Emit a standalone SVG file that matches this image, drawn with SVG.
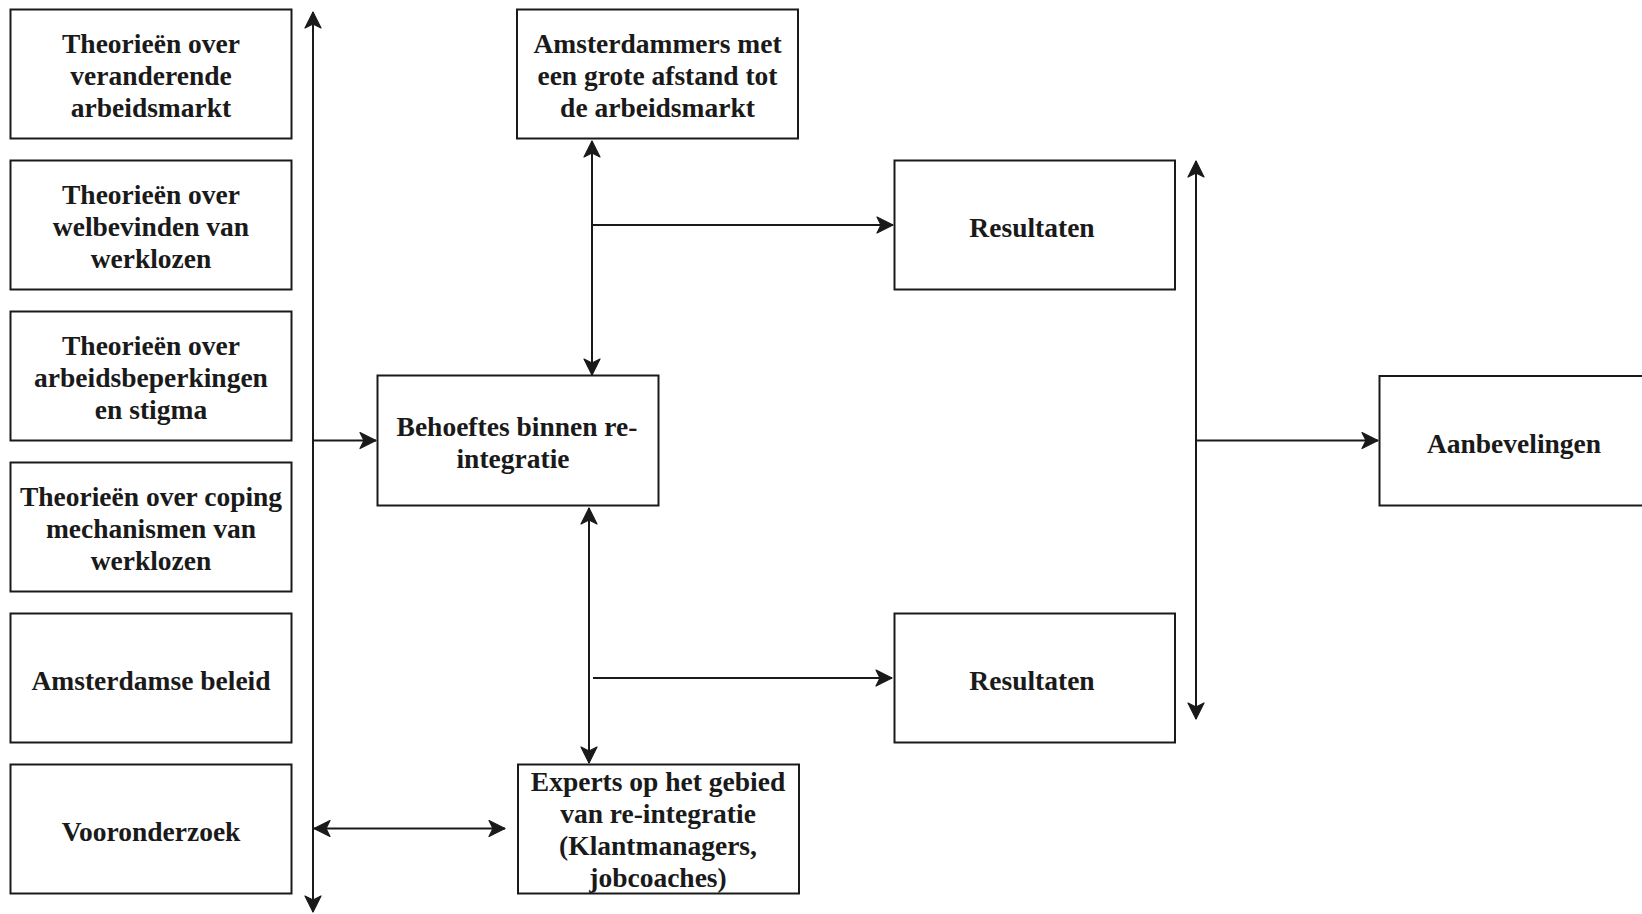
<svg xmlns="http://www.w3.org/2000/svg" width="1642" height="914" viewBox="0 0 1642 914">
<style>
.box{fill:#fff;stroke:#1a1a1a;stroke-width:2}
.t{font-family:"Liberation Serif","Times New Roman",serif;font-weight:bold;font-size:27.5px;fill:#1a1a1a;text-anchor:middle}
.c{fill:none;stroke:#1a1a1a;stroke-width:2}
</style>
<defs>
<marker id="ah" markerUnits="userSpaceOnUse" markerWidth="20" markerHeight="20" refX="17" refY="9" orient="auto-start-reverse" viewBox="0 0 20 18" overflow="visible">
<path d="M1,1 L17,9 L1,17 L5,9 z" fill="#1a1a1a" stroke="#1a1a1a" stroke-width="1.2" stroke-linejoin="round"/>
</marker>
</defs>
<rect width="1642" height="914" fill="#fff"/>
<g id="connectors">
<line class="c" x1="313" y1="12" x2="313" y2="912" marker-start="url(#ah)" marker-end="url(#ah)"/>
<line class="c" x1="313" y1="440.5" x2="376" y2="440.5" marker-end="url(#ah)"/>
<line class="c" x1="314" y1="828.5" x2="505" y2="828.5" marker-start="url(#ah)" marker-end="url(#ah)"/>
<line class="c" x1="592" y1="141" x2="592" y2="375" marker-start="url(#ah)" marker-end="url(#ah)"/>
<line class="c" x1="592" y1="225" x2="893" y2="225" marker-end="url(#ah)"/>
<line class="c" x1="589" y1="508" x2="589" y2="763" marker-start="url(#ah)" marker-end="url(#ah)"/>
<line class="c" x1="593" y1="678" x2="892" y2="678" marker-end="url(#ah)"/>
<line class="c" x1="1196" y1="161" x2="1196" y2="719" marker-start="url(#ah)" marker-end="url(#ah)"/>
<line class="c" x1="1196" y1="440.5" x2="1378" y2="440.5" marker-end="url(#ah)"/>
</g>
<g id="n1"><rect class="box" x="10.5" y="9.5" width="281" height="129"/>
<text class="t" x="151" y="53">Theorieën over</text><text class="t" x="151" y="85">veranderende</text><text class="t" x="151" y="117">arbeidsmarkt</text></g>
<g id="n2"><rect class="box" x="10.5" y="160.5" width="281" height="129"/>
<text class="t" x="151" y="204">Theorieën over</text><text class="t" x="151" y="236">welbevinden van</text><text class="t" x="151" y="268">werklozen</text></g>
<g id="n3"><rect class="box" x="10.5" y="311.5" width="281" height="129"/>
<text class="t" x="151" y="355">Theorieën over</text><text class="t" x="151" y="387">arbeidsbeperkingen</text><text class="t" x="151" y="419">en stigma</text></g>
<g id="n4"><rect class="box" x="10.5" y="462.5" width="281" height="129"/>
<text class="t" x="151" y="506">Theorieën over coping</text><text class="t" x="151" y="538">mechanismen van</text><text class="t" x="151" y="570">werklozen</text></g>
<g id="n5"><rect class="box" x="10.5" y="613.5" width="281" height="129"/>
<text class="t" x="151" y="689.5">Amsterdamse beleid</text></g>
<g id="n6"><rect class="box" x="10.5" y="764.5" width="281" height="129"/>
<text class="t" x="151" y="840.5">Vooronderzoek</text></g>
<g id="n7"><rect class="box" x="517" y="9.5" width="281" height="129"/>
<text class="t" x="657.5" y="53">Amsterdammers met</text><text class="t" x="657.5" y="85">een grote afstand tot</text><text class="t" x="657.5" y="117">de arbeidsmarkt</text></g>
<g id="n8"><rect class="box" x="377.5" y="375.5" width="281" height="130"/>
<text class="t" x="517" y="436">Behoeftes binnen re-</text><text class="t" x="513" y="468">integratie</text></g>
<g id="n9"><rect class="box" x="518" y="764.5" width="281" height="129"/>
<text class="t" x="658" y="791">Experts op het gebied</text><text class="t" x="658" y="823">van re-integratie</text><text class="t" x="658" y="855">(Klantmanagers,</text><text class="t" x="658" y="887">jobcoaches)</text></g>
<g id="n10"><rect class="box" x="894.5" y="160.5" width="280.5" height="129"/>
<text class="t" x="1032" y="237">Resultaten</text></g>
<g id="n11"><rect class="box" x="894.5" y="613.5" width="280.5" height="129"/>
<text class="t" x="1032" y="690">Resultaten</text></g>
<g id="n12"><rect class="box" x="1379.5" y="376" width="290" height="129.5"/>
<text class="t" x="1514" y="453">Aanbevelingen</text></g>
</svg>
